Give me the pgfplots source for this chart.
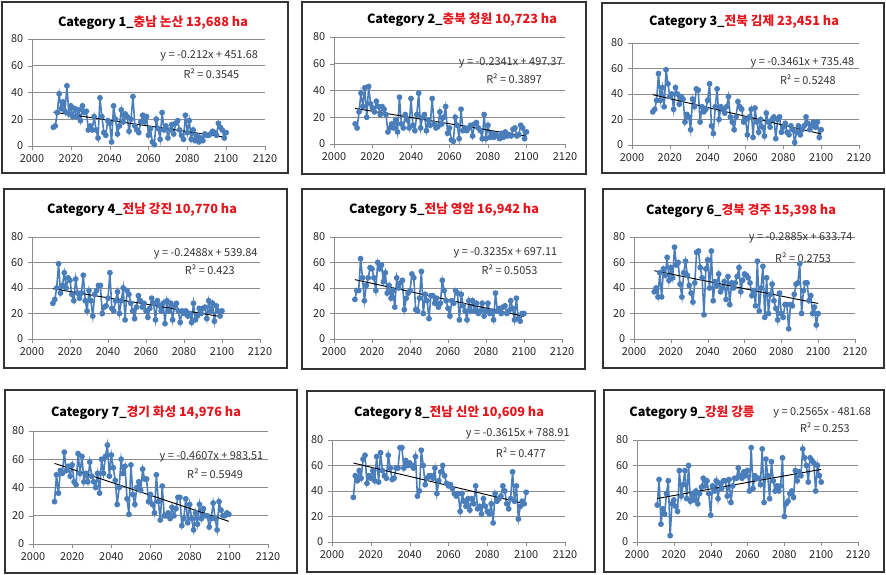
\documentclass[border=0pt]{standalone}
\usepackage{pgfplots}
\pgfplotsset{compat=1.18}
\usepackage{fontspec}
\setmainfont{Noto Sans CJK KR}
\definecolor{serblue}{RGB}{74,126,187}
\definecolor{gridgray}{RGB}{140,140,140}
\definecolor{titred}{RGB}{228,22,30}
\definecolor{eqgray}{RGB}{50,50,50}
\pgfplotsset{panel/.style={scale only axis, anchor=south west, clip=false,
  xmin=2000, xmax=2120, ymin=0, ymax=80,
  xtick={2000,2020,...,2120}, ytick={0,20,...,80},
  axis lines=left, axis line style={-,draw=gridgray},
  ymajorgrids, grid style={gridgray, line width=0.6pt},
  tick style={gridgray}, major tick length=3pt, tick align=outside,
  ticklabel style={font=\fontsize{8.2}{9}\selectfont, text=black!85},
  /pgf/number format/1000 sep={}, /pgf/number format/assume math mode=true},
  ser/.style={serblue, line width=1.2pt, mark=*, mark size=1.55pt, mark options={fill=serblue, draw=serblue}},
  trend/.style={black, line width=0.7pt}}
\tikzset{eq/.style={font=\fontsize{8.2}{9}\selectfont, text=eqgray}}
\newcommand{\ttl}[2]{\fontsize{9.5}{11}\selectfont\bfseries #1\textcolor{titred}{#2}}
\begin{document}
\begin{tikzpicture}[x=0.75pt,y=0.75pt]
\useasboundingbox (0,0) rectangle (886,575);
\tikzset{frame/.style={draw=black!80, line width=0.8pt}}
\draw[frame] (2,573) rectangle (288,402);
\draw[frame] (302,573) rectangle (586,401);
\draw[frame] (602,572) rectangle (884,402);
\draw[frame] (4,386) rectangle (287,207);
\draw[frame] (302,386) rectangle (585,206);
\draw[frame] (603,386) rectangle (884,207);
\draw[frame] (5,185) rectangle (297,2);
\draw[frame] (307,184) rectangle (595,3);
\draw[frame] (604,185) rectangle (884,3);
\node at (153,552) {\ttl{Category 1\_}{충남 논산 13,688 ha}};
\node at (462,555) {\ttl{Category 2\_}{충북 청원 10,723 ha}};
\node at (744,553) {\ttl{Category 3\_}{전북 김제 23,451 ha}};
\node at (142,365) {\ttl{Category 4\_}{전남 강진 10,770 ha}};
\node at (444,365) {\ttl{Category 5\_}{전남 영암 16,942 ha}};
\node at (741,364) {\ttl{Category 6\_}{경북 경주 15,398 ha}};
\node at (146,162) {\ttl{Category 7\_}{경기 화성 14,976 ha}};
\node at (449,162) {\ttl{Category 8\_}{전남 신안 10,609 ha}};
\node at (692,162) {\ttl{Category 9\_}{강원 강릉}};
% Panel 1
\begin{axis}[panel, at={(32*0.75pt,429*0.75pt)}, width=174.75pt, height=80.25pt]
\addplot[ser] coordinates {
(2011,14)(2012,15)(2013,25)(2014,39)(2015,28)(2016,33)(2017,26)(2018,45)(2019,24)(2020,30)
(2021,22)(2022,28)(2023,22)(2024,27)(2025,19)(2026,30)(2027,25)(2028,26)(2029,12)(2030,15)
(2031,12)(2032,22)(2033,12)(2034,6)(2035,36)(2036,22)(2037,10)(2038,8)(2039,19)(2040,17)
(2041,3)(2042,30)(2043,20)(2044,9)(2045,15)(2046,27)(2047,18)(2048,24)(2049,22)(2050,11)
(2051,20)(2052,37)(2053,15)(2054,12)(2055,10)(2056,18)(2057,23)(2058,18)(2059,22)(2060,8)
(2061,13)(2062,3)(2063,1)(2064,20)(2065,13)(2066,5)(2067,25)(2068,12)(2069,15)(2070,6)
(2071,12)(2072,16)(2073,9)(2074,17)(2075,19)(2076,12)(2077,8)(2078,5)(2079,23)(2080,10)
(2081,19)(2082,5)(2083,12)(2084,4)(2085,8)(2086,3)(2087,6)(2088,4)(2089,9)(2090,8)
(2091,8)(2092,9)(2093,11)(2094,10)(2095,8)(2096,17)(2097,14)(2098,12)(2099,6)(2100,10)};
\addplot[trend] coordinates {(2011,25.35)(2100,6.48)};
\node[eq, anchor=east] at (rel axis cs:0.99,0.84) {y = -0.212x + 451.68};
\node[eq] at (rel axis cs:0.77,0.68) {R² = 0.3545};
\end{axis}
% Panel 2
\begin{axis}[panel, at={(334*0.75pt,431*0.75pt)}, width=173.25pt, height=80.25pt]
\addplot[ser] coordinates {
(2011,15)(2012,12)(2013,24)(2014,38)(2015,28)(2016,42)(2017,20)(2018,43)(2019,30)(2020,27)
(2021,24)(2022,32)(2023,28)(2024,22)(2025,28)(2026,26)(2027,22)(2028,9)(2029,12)(2030,15)
(2031,12)(2032,18)(2033,9)(2034,35)(2035,15)(2036,12)(2037,22)(2038,18)(2039,12)(2040,34)
(2041,14)(2042,10)(2043,22)(2044,38)(2045,12)(2046,20)(2047,22)(2048,10)(2049,18)(2050,14)
(2051,34)(2052,15)(2053,12)(2054,13)(2055,24)(2056,15)(2057,20)(2058,28)(2059,8)(2060,12)
(2061,3)(2062,2)(2063,20)(2064,14)(2065,4)(2066,26)(2067,10)(2068,12)(2069,10)(2070,12)
(2071,14)(2072,6)(2073,15)(2074,16)(2075,12)(2076,10)(2077,4)(2078,22)(2079,4)(2080,14)
(2081,5)(2082,8)(2083,5)(2084,7)(2085,6)(2086,4)(2087,8)(2088,5)(2089,9)(2090,6)
(2091,7)(2092,6)(2093,11)(2094,12)(2095,6)(2096,7)(2097,14)(2098,12)(2099,4)(2100,9)};
\addplot[trend] coordinates {(2011,26.60)(2100,5.76)};
\node[eq, anchor=east] at (rel axis cs:1.01,0.76) {y = -0.2341x + 497.37};
\node[eq] at (rel axis cs:0.78,0.61) {R² = 0.3897};
\end{axis}
% Panel 3
\begin{axis}[panel, at={(632*0.75pt,430*0.75pt)}, width=170.25pt, height=76.5pt]
\addplot[ser] coordinates {
(2011,26)(2012,28)(2013,35)(2014,56)(2015,35)(2016,45)(2017,30)(2018,59)(2019,48)(2020,38)
(2021,40)(2022,28)(2023,45)(2024,40)(2025,32)(2026,38)(2027,36)(2028,18)(2029,24)(2030,22)
(2031,12)(2032,36)(2033,30)(2034,44)(2035,43)(2036,18)(2037,30)(2038,26)(2039,28)(2040,35)
(2041,48)(2042,15)(2043,9)(2044,30)(2045,44)(2046,20)(2047,30)(2048,28)(2049,25)(2050,30)
(2051,38)(2052,22)(2053,18)(2054,12)(2055,22)(2056,34)(2057,30)(2058,28)(2059,18)(2060,20)
(2061,8)(2062,22)(2063,28)(2064,6)(2065,29)(2066,18)(2067,10)(2068,20)(2069,14)(2070,7)
(2071,25)(2072,18)(2073,14)(2074,20)(2075,22)(2076,5)(2077,20)(2078,22)(2079,10)(2080,14)
(2081,17)(2082,10)(2083,8)(2084,15)(2085,12)(2086,2)(2087,10)(2088,15)(2089,8)(2090,12)
(2091,15)(2092,22)(2093,17)(2094,12)(2095,15)(2096,18)(2097,14)(2098,18)(2099,6)(2100,12)};
\addplot[trend] coordinates {(2011,39.47)(2100,8.67)};
\node[eq, anchor=east] at (rel axis cs:1.0,0.81) {y = -0.3461x + 735.48};
\node[eq] at (rel axis cs:0.775,0.64) {R² = 0.5248};
\end{axis}
% Panel 4
\begin{axis}[panel, at={(32*0.75pt,236*0.75pt)}, width=171pt, height=76.5pt]
\addplot[ser] coordinates {
(2011,28)(2012,31)(2013,40)(2014,59)(2015,36)(2016,42)(2017,52)(2018,40)(2019,48)(2020,46)
(2021,35)(2022,30)(2023,47)(2024,36)(2025,32)(2026,36)(2027,50)(2028,30)(2029,22)(2030,38)
(2031,30)(2032,18)(2033,35)(2034,38)(2035,42)(2036,42)(2037,20)(2038,25)(2039,26)(2040,32)
(2041,52)(2042,24)(2043,22)(2044,30)(2045,37)(2046,20)(2047,30)(2048,40)(2049,15)(2050,38)
(2051,35)(2052,28)(2053,22)(2054,16)(2055,25)(2056,34)(2057,30)(2058,25)(2059,28)(2060,22)
(2061,17)(2062,24)(2063,32)(2064,28)(2065,15)(2066,30)(2067,26)(2068,22)(2069,28)(2070,12)
(2071,30)(2072,22)(2073,28)(2074,15)(2075,26)(2076,28)(2077,22)(2078,13)(2079,22)(2080,20)
(2081,22)(2082,18)(2083,20)(2084,13)(2085,28)(2086,15)(2087,18)(2088,24)(2089,20)(2090,24)
(2091,25)(2092,16)(2093,30)(2094,22)(2095,28)(2096,14)(2097,26)(2098,22)(2099,18)(2100,22)};
\addplot[trend] coordinates {(2011,39.50)(2100,17.36)};
\node[eq, anchor=east] at (rel axis cs:1.01,0.84) {y = -0.2488x + 539.84};
\node[eq] at (rel axis cs:0.78,0.68) {R² = 0.423};
\end{axis}
% Panel 5
\begin{axis}[panel, at={(334*0.75pt,236*0.75pt)}, width=171pt, height=76.5pt]
\addplot[ser] coordinates {
(2011,31)(2012,38)(2013,38)(2014,63)(2015,48)(2016,30)(2017,42)(2018,48)(2019,56)(2020,55)
(2021,48)(2022,38)(2023,60)(2024,55)(2025,58)(2026,45)(2027,52)(2028,36)(2029,42)(2030,32)
(2031,38)(2032,25)(2033,48)(2034,40)(2035,44)(2036,46)(2037,23)(2038,32)(2039,36)(2040,38)
(2041,51)(2042,48)(2043,23)(2044,22)(2045,32)(2046,53)(2047,20)(2048,35)(2049,30)(2050,16)
(2051,34)(2052,34)(2053,28)(2054,32)(2055,25)(2056,28)(2057,46)(2058,38)(2059,30)(2060,24)
(2061,18)(2062,30)(2063,28)(2064,38)(2065,36)(2066,15)(2067,35)(2068,26)(2069,22)(2070,15)
(2071,30)(2072,22)(2073,30)(2074,22)(2075,28)(2076,20)(2077,22)(2078,28)(2079,18)(2080,22)
(2081,28)(2082,20)(2083,22)(2084,15)(2085,36)(2086,22)(2087,24)(2088,20)(2089,25)(2090,26)
(2091,20)(2092,22)(2093,30)(2094,24)(2095,15)(2096,32)(2097,16)(2098,14)(2099,20)(2100,20)};
\addplot[trend] coordinates {(2011,46.55)(2100,17.76)};
\node[eq, anchor=east] at (rel axis cs:1.0,0.845) {y = -0.3235x + 697.11};
\node[eq] at (rel axis cs:0.77,0.68) {R² = 0.5053};
\end{axis}
% Panel 6
\begin{axis}[panel, at={(634*0.75pt,236*0.75pt)}, width=165.75pt, height=76.5pt]
\addplot[ser] coordinates {
(2011,37)(2012,40)(2013,33)(2014,52)(2015,33)(2016,55)(2017,50)(2018,64)(2019,46)(2020,56)
(2021,48)(2022,72)(2023,58)(2024,60)(2025,43)(2026,33)(2027,52)(2028,61)(2029,50)(2030,42)
(2031,36)(2032,29)(2033,44)(2034,68)(2035,69)(2036,56)(2037,48)(2038,19)(2039,55)(2040,62)
(2041,40)(2042,69)(2043,30)(2044,45)(2045,42)(2046,51)(2047,37)(2048,40)(2049,45)(2050,31)
(2051,49)(2052,27)(2053,44)(2054,40)(2055,44)(2056,49)(2057,56)(2058,37)(2059,46)(2060,51)
(2061,50)(2062,48)(2063,44)(2064,34)(2065,38)(2066,26)(2067,61)(2068,22)(2069,40)(2070,57)
(2071,17)(2072,48)(2073,20)(2074,35)(2075,43)(2076,30)(2077,24)(2078,15)(2079,36)(2080,20)
(2081,17)(2082,27)(2083,27)(2084,8)(2085,27)(2086,26)(2087,35)(2088,43)(2089,44)(2090,59)
(2091,20)(2092,38)(2093,44)(2094,44)(2095,30)(2096,34)(2097,20)(2098,25)(2099,11)(2100,20)};
\addplot[trend] coordinates {(2011,53.57)(2100,27.89)};
\node[eq, anchor=east] at (rel axis cs:1.01,0.99) {y = -0.2885x + 633.74};
\node[eq] at (rel axis cs:0.765,0.80) {R² = 0.2753};
\end{axis}
% Panel 7
\begin{axis}[panel, at={(33*0.75pt,31*0.75pt)}, width=176.25pt, height=84.75pt]
\addplot[ser] coordinates {
(2011,30)(2012,49)(2013,36)(2014,52)(2015,50)(2016,65)(2017,52)(2018,55)(2019,48)(2020,56)
(2021,44)(2022,42)(2023,64)(2024,50)(2025,62)(2026,44)(2027,50)(2028,44)(2029,58)(2030,48)
(2031,44)(2032,40)(2033,50)(2034,36)(2035,60)(2036,50)(2037,62)(2038,70)(2039,48)(2040,63)
(2041,54)(2042,45)(2043,28)(2044,40)(2045,60)(2046,50)(2047,55)(2048,32)(2049,21)(2050,56)
(2051,35)(2052,28)(2053,40)(2054,44)(2055,38)(2056,53)(2057,46)(2058,46)(2059,30)(2060,35)
(2061,28)(2062,22)(2063,49)(2064,30)(2065,17)(2066,41)(2067,20)(2068,20)(2069,22)(2070,18)
(2071,26)(2072,20)(2073,25)(2074,33)(2075,33)(2076,13)(2077,18)(2078,32)(2079,15)(2080,28)
(2081,18)(2082,10)(2083,22)(2084,14)(2085,28)(2086,18)(2087,25)(2088,20)(2089,20)(2090,12)
(2091,18)(2092,29)(2093,18)(2094,10)(2095,30)(2096,24)(2097,20)(2098,20)(2099,22)(2100,21)};
\addplot[trend] coordinates {(2011,57.04)(2100,16.04)};
\node[eq, anchor=east] at (rel axis cs:1.0,0.77) {y = -0.4607x + 983.51};
\node[eq] at (rel axis cs:0.775,0.62) {R² = 0.5949};
\end{axis}
% Panel 8
\begin{axis}[panel, at={(332*0.75pt,33*0.75pt)}, width=174.75pt, height=76.5pt]
\addplot[ser] coordinates {
(2011,35)(2012,52)(2013,48)(2014,56)(2015,50)(2016,65)(2017,68)(2018,46)(2019,52)(2020,50)
(2021,56)(2022,48)(2023,67)(2024,47)(2025,70)(2026,56)(2027,52)(2028,50)(2029,68)(2030,58)
(2031,49)(2032,50)(2033,58)(2034,58)(2035,74)(2036,74)(2037,58)(2038,64)(2039,60)(2040,62)
(2041,60)(2042,58)(2043,67)(2044,36)(2045,40)(2046,72)(2047,60)(2048,45)(2049,50)(2050,52)
(2051,52)(2052,50)(2053,58)(2054,38)(2055,48)(2056,55)(2057,60)(2058,52)(2059,46)(2060,44)
(2061,45)(2062,42)(2063,38)(2064,36)(2065,38)(2066,24)(2067,38)(2068,32)(2069,28)(2070,34)
(2071,25)(2072,34)(2073,30)(2074,44)(2075,26)(2076,28)(2077,22)(2078,34)(2079,28)(2080,24)
(2081,22)(2082,30)(2083,15)(2084,38)(2085,32)(2086,34)(2087,36)(2088,44)(2089,40)(2090,30)
(2091,26)(2092,34)(2093,55)(2094,32)(2095,44)(2096,18)(2097,28)(2098,32)(2099,30)(2100,39)};
\addplot[trend] coordinates {(2011,61.93)(2100,29.76)};
\node[eq, anchor=east] at (rel axis cs:1.04,1.06) {y = -0.3615x + 788.91};
\node[eq] at (rel axis cs:0.81,0.88) {R² = 0.477};
\end{axis}
% Panel 9
\begin{axis}[panel, at={(637*0.75pt,33*0.75pt)}, width=165.75pt, height=76.5pt]
\addplot[ser] coordinates {
(2011,29)(2012,49)(2013,14)(2014,26)(2015,22)(2016,38)(2017,48)(2018,5)(2019,30)(2020,33)
(2021,28)(2022,24)(2023,56)(2024,36)(2025,45)(2026,56)(2027,34)(2028,60)(2029,32)(2030,38)
(2031,33)(2032,40)(2033,30)(2034,38)(2035,43)(2036,50)(2037,44)(2038,48)(2039,38)(2040,21)
(2041,44)(2042,40)(2043,48)(2044,34)(2045,46)(2046,42)(2047,48)(2048,48)(2049,36)(2050,49)
(2051,31)(2052,44)(2053,50)(2054,50)(2055,58)(2056,52)(2057,50)(2058,55)(2059,52)(2060,56)
(2061,40)(2062,74)(2063,42)(2064,52)(2065,50)(2066,50)(2067,45)(2068,73)(2069,31)(2070,65)
(2071,52)(2072,34)(2073,63)(2074,48)(2075,40)(2076,44)(2077,40)(2078,44)(2079,66)(2080,20)
(2081,30)(2082,32)(2083,38)(2084,40)(2085,35)(2086,56)(2087,48)(2088,55)(2089,52)(2090,73)
(2091,66)(2092,60)(2093,47)(2094,66)(2095,64)(2096,62)(2097,40)(2098,60)(2099,52)(2100,47)};
\addplot[trend] coordinates {(2011,34.14)(2100,56.97)};
\node[eq, anchor=east] at (rel axis cs:1.08,1.27) {y = 0.2565x - 481.68};
\node[eq] at (rel axis cs:0.85,1.12) {R² = 0.253};
\end{axis}
\end{tikzpicture}
\end{document}
